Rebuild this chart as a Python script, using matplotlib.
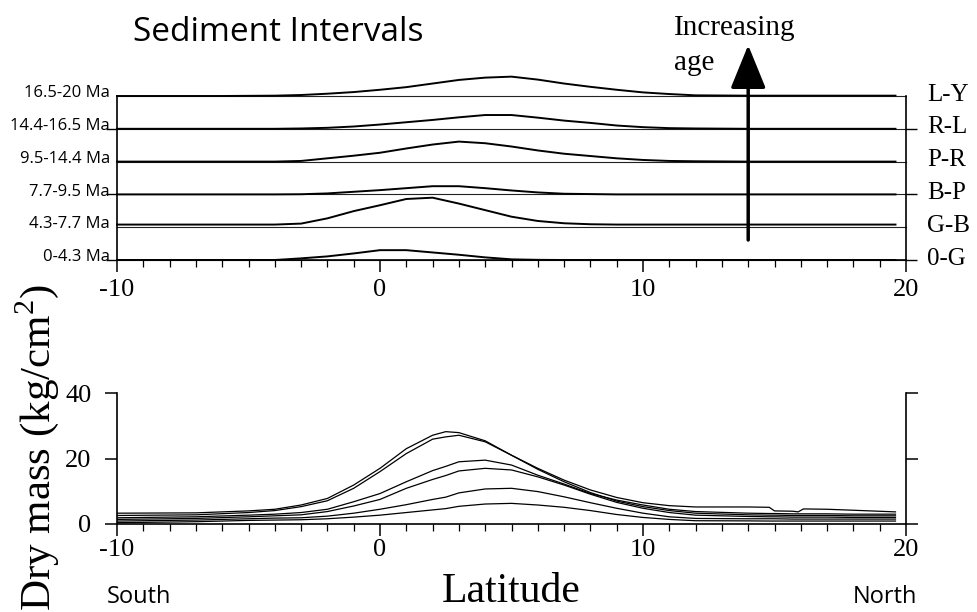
import matplotlib
matplotlib.use("Agg")
import matplotlib.pyplot as plt
from matplotlib.ticker import MultipleLocator

plt.rcParams['font.family'] = ['Liberation Serif', 'DejaVu Serif']
plt.rcParams['mathtext.fontset'] = 'custom'
plt.rcParams['mathtext.rm'] = 'Liberation Serif'
plt.rcParams['axes.unicode_minus'] = False

#----data
# top panel: thickness of each interval (stacked 10 units apart)
lat_top = [-10, -6, -4, -3, -2, -1, 0, 1, 2, 3, 4, 5, 6, 7, 8, 9, 10, 11, 12, 14, 16, 18, 19.6]
thick_0G = [0, 0, 0, 0.5, 1.1, 2.0, 3.0, 3.0, 2.3, 1.6, 0.8, 0.2, 0.05, 0, 0, 0, 0, 0, 0, 0, 0, 0, 0]
thick_GB = [0.8, 0.8, 0.8, 1.1, 2.7, 4.9, 6.7, 8.6, 9.0, 7.2, 5.2, 3.2, 1.9, 1.2, 0.9, 0.8, 0.8, 0.8, 0.8, 0.8, 0.8, 0.8, 0.8]
thick_BP = [0, 0, 0, 0.05, 0.3, 0.8, 1.3, 1.9, 2.5, 2.5, 1.9, 1.2, 0.6, 0.2, 0.1, 0, 0, 0, 0, 0, 0, 0, 0]
thick_PR = [0, 0, 0, 0.2, 1.0, 1.8, 2.7, 4.0, 5.2, 6.1, 5.6, 4.6, 3.4, 2.4, 1.7, 1.0, 0.5, 0.2, 0.1, 0, 0, 0, 0]
thick_RL = [0, 0, 0, 0.1, 0.3, 0.7, 1.3, 2.0, 2.7, 3.5, 4.2, 4.2, 3.4, 2.5, 1.8, 1.0, 0.5, 0.2, 0.1, 0, 0, 0, 0]
thick_LY = [0, 0, 0.1, 0.3, 0.7, 1.2, 1.9, 2.7, 3.8, 4.9, 5.6, 5.9, 5.0, 3.8, 2.8, 1.9, 1.1, 0.6, 0.2, 0.1, 0.1, 0.1, 0.1]
intervals = ['0-4.3 Ma', '4.3-7.7 Ma', '7.7-9.5 Ma', '9.5-14.4 Ma', '14.4-16.5 Ma', '16.5-20 Ma']
codes = ['0-G', 'G-B', 'B-P', 'P-R', 'R-L', 'L-Y']
spacing = 10

# bottom panel: dry mass curves
lat_bot = [-10, -7, -5, -4, -3, -2, -1, 0, 1, 2, 2.5, 3, 4, 5, 6, 7, 8, 9, 10, 11, 12,
           14, 14.8, 15, 15.7, 15.9, 16.1, 17, 18, 19.6]
mass1 = [3.3, 3.4, 4.0, 4.5, 5.8, 7.8, 11.9, 17.0, 23.0, 27.1, 28.2, 27.9, 25.4, 21.0, 17.0, 13.4, 10.4, 8.1, 6.5, 5.6, 5.2,
         5.2, 5.1, 4.0, 3.9, 3.7, 4.6, 4.5, 4.2, 3.7]
mass2 = [2.6, 2.8, 3.5, 4.1, 5.3, 7.1, 10.9, 16.0, 21.5, 25.9, 26.6, 27.1, 25.1, 21.0, 16.7, 12.9, 9.6, 7.0, 5.3, 4.1, 3.3,
         2.8, 2.7, 2.7, 2.6, 2.6, 2.6, 2.6, 2.5, 2.5]
mass3 = [1.9, 2.2, 2.7, 3.0, 3.5, 4.5, 6.8, 9.3, 12.9, 16.3, 17.6, 19.0, 19.5, 18.0, 14.9, 12.2, 9.3, 7.3, 5.8, 4.5, 3.8,
         3.3, 3.2, 3.2, 3.1, 3.1, 3.1, 3.1, 3.0, 3.0]
mass4 = [1.4, 1.7, 2.2, 2.5, 2.8, 3.8, 5.5, 7.5, 10.9, 13.6, 14.8, 16.2, 17.0, 16.5, 14.4, 11.9, 9.1, 6.6, 4.8, 3.5, 2.7,
         2.3, 2.2, 2.2, 2.1, 2.1, 2.1, 2.1, 2.0, 2.0]
mass5 = [0.9, 1.2, 1.6, 1.8, 1.9, 2.4, 3.3, 4.5, 5.9, 7.5, 8.2, 9.5, 10.7, 10.9, 9.9, 8.3, 6.5, 4.8, 3.3, 2.2, 1.7,
         1.6, 1.6, 1.6, 1.5, 1.5, 1.5, 1.5, 1.5, 1.5]
mass6 = [0.4, 0.7, 1.1, 1.2, 1.3, 1.6, 2.1, 2.7, 3.5, 4.3, 4.7, 5.4, 6.1, 6.3, 5.8, 5.1, 4.1, 2.9, 2.0, 1.4, 1.0,
         0.95, 0.9, 0.9, 0.9, 0.9, 0.9, 0.9, 0.9, 0.9]
#------

W, H = 977, 612
fig = plt.figure(figsize=(W/100, H/100), dpi=100)

def fx(px):
    return px / W

def fy(py):
    return 1 - py / H

ax_top = fig.add_axes([fx(117), fy(260), fx(906) - fx(117), (260 - 96) / H])
ax_bot = fig.add_axes([fx(117), fy(524), fx(906) - fx(117), (524 - 393) / H])

#----top panel
thicks = [thick_0G, thick_GB, thick_BP, thick_PR, thick_RL, thick_LY]
for i, th in enumerate(thicks):
    base = i * spacing
    ax_top.axhline(base, color='#222222', lw=0.8, clip_on=False)
    ax_top.plot(lat_top, [base + v for v in th], color='black', lw=1.4, clip_on=False)
    ax_top.annotate(intervals[i], xy=(-10, base), xytext=(-5, 2), textcoords='offset points',
                    ha='right', va='center', fontsize=12, family='Open Sans')
    ax_top.annotate(codes[i], xy=(20, base), xytext=(15, 1), textcoords='offset points',
                    ha='left', va='center', fontsize=18)

ax_top.set_xlim(-10, 20)
ax_top.set_ylim(0, 50)
ax_top.xaxis.set_major_locator(MultipleLocator(10))
ax_top.xaxis.set_minor_locator(MultipleLocator(1))
ax_top.set_yticks([0, 20, 40])
ax_top.tick_params(axis='x', which='major', length=8.5, width=1.1, labelsize=19, pad=5)
ax_top.tick_params(axis='x', which='minor', length=5, width=0.9)
ax_top.tick_params(axis='y', which='major', left=True, right=True, labelleft=False,
                   length=8, width=1.0)
ax_top.spines['top'].set_visible(False)
for s in ['left', 'right', 'bottom']:
    ax_top.spines[s].set_linewidth(1.2)

# increasing age arrow
ax_top.annotate('', xy=(14, 65.5), xytext=(14, 6.1),
                arrowprops=dict(arrowstyle='-|>,head_length=2.7,head_width=1.1', mutation_scale=10,
                                lw=2.5, color='black', shrinkA=0, shrinkB=0),
                annotation_clip=False)

#----bottom panel
for m in [mass1, mass2, mass3, mass4, mass5, mass6]:
    ax_bot.plot(lat_bot, m, color='black', lw=0.9)

ax_bot.set_xlim(-10, 20)
ax_bot.set_ylim(0, 40)
ax_bot.xaxis.set_major_locator(MultipleLocator(10))
ax_bot.xaxis.set_minor_locator(MultipleLocator(1))
ax_bot.set_yticks([0, 20, 40])
ax_bot.tick_params(axis='x', which='major', length=8.5, width=1.1, labelsize=19, pad=2)
ax_bot.tick_params(axis='x', which='minor', length=5, width=0.9)
ax_bot.tick_params(axis='y', which='major', left=True, right=True, length=8.5, width=1.1,
                   labelsize=19, pad=10)
ax_bot.spines['top'].set_visible(False)
for s in ['left', 'right', 'bottom']:
    ax_bot.spines[s].set_linewidth(1.2)

#----texts
fig.text(fx(133), fy(41), 'Sediment Intervals', fontsize=24, family='Open Sans', va='baseline')
fig.text(fx(674), fy(35), 'Increasing', fontsize=21, va='baseline')
fig.text(fx(674), fy(70), 'age', fontsize=21, va='baseline')
fig.text(fx(107), fy(603), 'South', fontsize=17, family='Open Sans', va='baseline')
fig.text(fx(917), fy(603), 'North', fontsize=17, family='Open Sans', va='baseline', ha='right')
fig.text(fx(511), fy(602), 'Latitude', fontsize=30, va='baseline', ha='center')
fig.text(fx(50), fy(447), 'Dry mass (kg/cm$^2$)', fontsize=31, rotation=90,
         rotation_mode='anchor', ha='center', va='baseline')

fig.savefig('out.png', dpi=100)
